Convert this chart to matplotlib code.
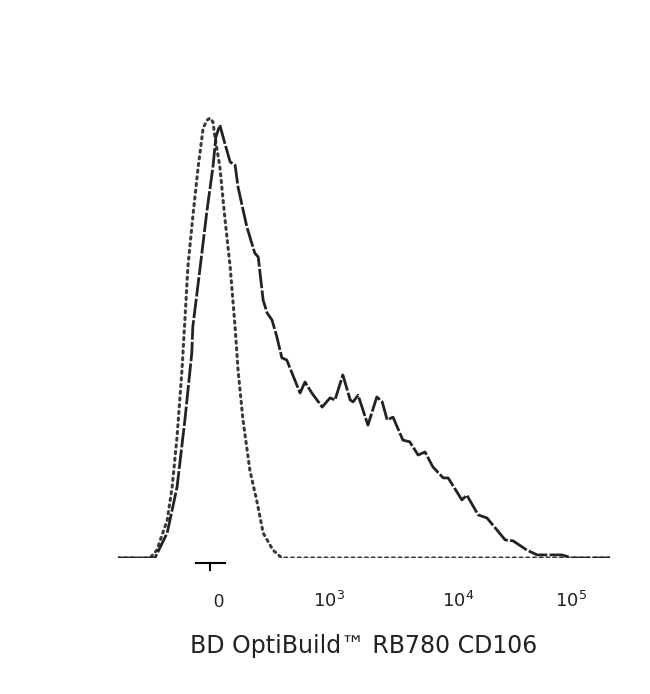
import numpy as np
import matplotlib
matplotlib.use('Agg')
import matplotlib.pyplot as plt
import matplotlib.transforms as mtransforms

plt.rcParams['font.family'] = ['Liberation Sans', 'DejaVu Sans']

# x in display channels (0-1000, biexponential axis), y in % of mode
control_x = [0, 65, 79, 100, 110, 120, 130, 136, 142, 152, 163, 173, 181, 187, 193,
             197, 207, 217, 228, 238, 244, 254, 268, 283, 295, 315, 333, 1000]
control_y = [0, 0, 1.8, 8.6, 16.1, 27.5, 42.7, 54.1, 66.1, 77.5, 88.9, 97.7, 99.5, 100, 99.1,
             95.7, 88.9, 77.5, 66.1, 52.5, 42.7, 31.4, 20.0, 12.5, 5.7, 1.8, 0, 0]

sample_x = [0, 75, 100, 120, 136, 150, 152, 167, 181, 193, 199, 207, 217, 228, 238,
            244, 262, 278, 285, 295, 303, 313, 323, 333, 343, 370, 380, 394, 415, 431,
            441, 457, 472, 478, 488, 508, 526, 537, 547, 559, 579, 593, 610, 624, 640,
            661, 671, 699, 709, 732, 750, 787, 803, 831, 852, 902, 923, 1000]
sample_y = [0, 0, 5.7, 16.1, 31.4, 46.6, 52.5, 66.1, 79.1, 88.9, 95.7, 98.4, 94.3, 90.0, 89.3,
            84.3, 75.2, 69.3, 68.4, 58.6, 55.7, 54.1, 50.2, 45.5, 45.0, 37.5, 40.0, 37.5, 34.3, 36.4,
            35.9, 41.6, 35.9, 35.5, 37.0, 30.2, 36.6, 35.5, 31.4, 32.0, 26.8, 26.4, 23.4, 24.1, 20.7,
            18.2, 18.2, 13.2, 14.3, 9.8, 9.1, 4.1, 3.9, 1.8, 0.7, 0.7, 0, 0]

tick_pos = [203, 429, 691, 921]
tick_labels = ['0', r'$10^3$', r'$10^4$', r'$10^5$']
zero_ch = 187

fig = plt.figure(figsize=(6.5, 6.94), dpi=100)
ax = fig.add_axes([118 / 650, 136 / 694, 492 / 650, 462 / 694])

ax.plot(control_x, control_y, color='#3a3a3a', lw=2.2, linestyle=(0, (0.7, 1.5)),
        dash_capstyle='round')
ax.plot(sample_x, sample_y, color='#222222', lw=2.0, linestyle=(0, (7, 0.8)))

ax.set_xlim(0, 1000)
ax.set_ylim(0, 105)
for s in ax.spines.values():
    s.set_visible(False)
ax.set_yticks([])
ax.set_xticks(tick_pos)
ax.set_xticklabels(tick_labels)
ax.tick_params(axis='x', length=0, pad=35, labelsize=13, labelcolor='#222222')
for lbl in ax.get_xticklabels():
    lbl.set_verticalalignment('baseline')

# small zero marker under the axis
trans = mtransforms.blended_transform_factory(ax.transData, ax.transAxes)
ax.plot([zero_ch - 28, zero_ch + 30], [-0.010, -0.010], color='black', lw=1.5,
        transform=trans, clip_on=False)
ax.plot([zero_ch, zero_ch], [-0.010, -0.025], color='black', lw=1.5,
        transform=trans, clip_on=False)

ax.set_xlabel('BD OptiBuild™ RB780 CD106', fontsize=17, color='#222222',
              family=['DejaVu Sans'])
ax.xaxis.set_label_coords(0.5, -0.165)

fig.savefig('out.png', dpi=100)
